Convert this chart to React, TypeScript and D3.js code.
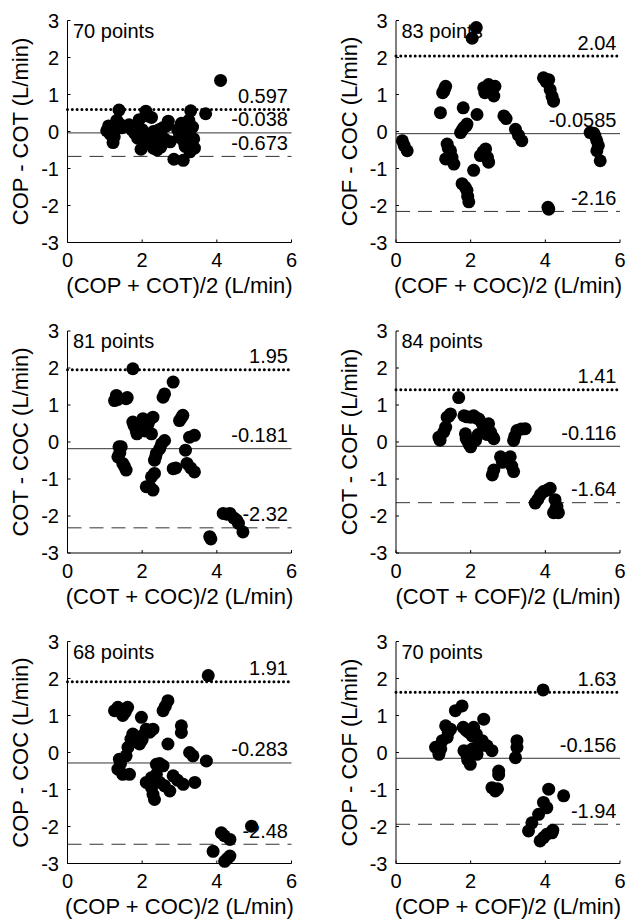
import React from 'react';
import * as d3 from 'd3';

// Bland-Altman panels: [mean of two methods, difference]
const copCot: [number, number][] = [
  [1.05, 0.02], [1.1, 0.15], [1.15, -0.08], [1.22, -0.3], [1.25, -0.15], [1.28, 0.05], [1.32, 0.3], [1.38, 0.58],
  [1.4, 0.2], [1.45, 0.1], [1.65, 0.18], [1.72, 0.05], [1.8, -0.05], [1.85, 0.1], [1.88, -0.18], [1.92, 0.32],
  [1.97, -0.48], [2.0, 0.05], [2.0, -0.1], [2.05, -0.3], [2.1, 0.55], [2.15, 0.42], [2.2, -0.15], [2.25, 0.38],
  [2.3, -0.45], [2.3, 0.0], [2.35, -0.1], [2.4, -0.5], [2.45, 0.05], [2.45, -0.3], [2.5, -0.42], [2.55, 0.1],
  [2.6, -0.2], [2.65, 0.15], [2.7, 0.28], [2.75, -0.28], [2.85, -0.75], [2.95, 0.05], [3.0, -0.15], [3.0, 0.0],
  [3.05, 0.22], [3.1, -0.78], [3.1, -0.25], [3.12, 0.1], [3.15, -0.4], [3.2, -0.1], [3.25, 0.3], [3.28, -0.55],
  [3.3, 0.56], [3.35, 0.12], [3.38, -0.2], [3.4, -0.45], [3.7, 0.48], [4.1, 1.38],
];

const cofCoc: [number, number][] = [
  [0.17, -0.25], [0.22, -0.38], [0.3, -0.52],
  [1.19, 0.51], [1.25, 1.05], [1.28, 1.09], [1.3, 1.15], [1.33, 1.22], [1.33, -0.74], [1.37, -0.34], [1.4, -0.45],
  [1.46, -0.52], [1.5, -0.7], [1.55, -0.88],
  [1.73, -0.03], [1.77, -1.41], [1.78, 0.05], [1.8, 0.64], [1.82, 0.11], [1.85, -1.5], [1.88, 0.15], [1.9, 0.2],
  [1.9, -1.59], [1.92, -1.75], [1.95, -1.9], [2.04, 2.52], [2.08, -1.05], [2.15, 2.81], [2.17, 0.46],
  [2.26, -0.65], [2.33, -0.55], [2.35, 1.18], [2.38, 1.05], [2.4, -0.47], [2.45, -0.7], [2.48, 1.27], [2.48, -0.83],
  [2.55, 1.1], [2.62, 0.96], [2.65, 1.22], [2.89, 0.42], [2.95, 0.35], [3.2, 0.06], [3.28, -0.1], [3.37, -0.25],
  [3.95, 1.45], [4.02, 1.35], [4.09, 1.4], [4.13, 1.13], [4.18, 0.95], [4.22, 0.82], [4.07, -2.05], [4.09, -2.1],
  [5.2, -0.03], [5.3, -0.05], [5.33, -0.12], [5.38, -0.25], [5.42, -0.38], [5.38, -0.52], [5.47, -0.79],
];

const cotCoc: [number, number][] = [
  [1.26, 1.12], [1.31, 1.26], [1.35, 1.15], [1.57, 1.17], [1.6, 1.2], [1.75, 1.98], [2.56, 1.21], [2.6, 1.3], [2.83, 1.62],
  [1.75, 0.54], [1.78, 0.45], [1.84, 0.31], [1.86, 0.22], [1.95, 0.4], [2.02, 0.63], [2.08, 0.3], [2.16, 0.49],
  [2.25, 0.22], [2.29, 0.67], [2.2, 0.6], [3.0, 0.58], [3.05, 0.65], [3.09, 0.72], [3.27, 0.13], [3.4, 0.18],
  [2.6, 0.04], [2.52, -0.05], [2.47, -0.18], [2.38, -0.31], [2.33, -0.49], [2.36, -0.4],
  [1.38, -0.13], [1.44, -0.13], [1.35, -0.4], [1.4, -0.3], [1.48, -0.58], [1.52, -0.65], [1.57, -0.76],
  [2.25, -0.94], [2.33, -0.85], [2.11, -1.21], [2.2, -1.2], [2.29, -1.3],
  [2.83, -0.72], [2.9, -0.7], [3.16, -0.22], [3.2, -0.58], [3.3, -0.7], [3.4, -0.81],
  [4.17, -1.93], [4.27, -1.95], [4.35, -1.93], [4.45, -2.05], [4.53, -2.11], [4.58, -2.2], [4.7, -2.43],
  [3.81, -2.56], [3.84, -2.62],
];

const cotCof: [number, number][] = [
  [1.68, 1.2], [1.15, 0.13], [1.18, 0.05], [1.28, 0.27], [1.33, 0.4], [1.37, 0.67], [1.46, 0.76], [1.42, 0.7],
  [1.82, 0.71], [1.9, 0.68], [2.0, 0.67], [2.08, 0.71], [2.15, 0.65], [2.22, 0.62], [2.31, 0.49], [2.4, 0.45],
  [2.48, 0.49], [2.53, 0.27], [2.58, 0.15], [2.62, 0.09], [2.35, 0.31], [2.45, 0.2],
  [1.86, 0.22], [1.88, 0.1], [1.91, 0.04], [1.95, -0.05], [2.0, -0.13], [2.05, 0.0], [2.13, 0.04], [2.2, 0.2],
  [2.62, -0.76], [2.58, -0.89], [2.8, -0.4], [2.85, -0.55], [2.93, -0.49], [3.06, -0.4], [3.1, -0.65], [3.15, -0.8],
  [3.15, 0.04], [3.18, 0.15], [3.24, 0.31], [3.35, 0.35], [3.46, 0.36],
  [3.73, -1.65], [3.8, -1.55], [3.87, -1.42], [3.95, -1.34], [4.05, -1.3], [4.13, -1.25], [4.26, -1.56],
  [4.31, -1.74], [4.35, -1.91], [4.22, -1.91], [4.28, -1.8],
];

const copCoc: [number, number][] = [
  [3.77, 2.08], [4.93, -1.99], [3.9, -2.67], [4.12, -2.17], [4.2, -2.25], [4.35, -2.35], [4.21, -2.94], [4.35, -2.8], [4.28, -2.87],
  [2.69, 1.4], [2.56, 1.13], [2.62, 1.25], [1.26, 1.13], [1.35, 1.22], [1.48, 1.0], [1.61, 1.22], [1.55, 1.1], [1.98, 0.95],
  [3.05, 0.72], [3.05, 0.54],
  [1.75, 0.5], [1.7, 0.36], [1.8, 0.3], [1.93, 0.23], [2.0, 0.45], [2.11, 0.63], [2.2, 0.55], [2.29, 0.63], [2.0, 0.35],
  [1.62, 0.14], [1.57, -0.09], [1.39, -0.18], [1.42, -0.3], [1.35, -0.45], [1.48, -0.59], [1.66, -0.59],
  [2.69, 0.23], [3.27, 0.0], [3.36, -0.09], [3.72, -0.23],
  [2.38, -0.32], [2.47, -0.3], [2.56, -0.36], [2.38, -0.59], [2.25, -0.68], [2.11, -0.81], [2.2, -0.85], [2.25, -0.95],
  [2.29, -1.13], [2.33, -1.27], [2.47, -0.81], [2.6, -0.9], [2.74, -1.04], [2.83, -0.63], [2.95, -0.75], [3.1, -0.86], [3.41, -0.81],
];

const copCof: [number, number][] = [
  [3.94, 1.69], [1.77, 1.26], [1.59, 1.13], [2.35, 0.9],
  [1.06, 0.14], [1.15, -0.05], [1.2, 0.1], [1.24, 0.32], [1.37, 0.41], [1.33, 0.72], [1.46, 0.63], [1.4, 0.55],
  [1.8, 0.68], [1.88, 0.6], [1.95, 0.54], [2.04, 0.45], [2.08, 0.68], [2.15, 0.5], [2.22, 0.32], [2.31, 0.32],
  [2.44, 0.18], [2.57, 0.05],
  [1.82, 0.05], [1.9, -0.09], [1.99, -0.32], [1.92, -0.2], [2.17, -0.05], [2.26, 0.18], [2.05, 0.1],
  [3.24, 0.32], [3.24, 0.14], [3.2, -0.14],
  [2.75, -0.5], [2.75, -0.6], [2.57, -0.95], [2.66, -1.04], [2.72, -0.98],
  [4.09, -0.99], [4.49, -1.17], [3.95, -1.35], [4.04, -1.49], [3.82, -1.67], [3.64, -1.9], [3.55, -2.12],
  [3.86, -2.39], [3.95, -2.3], [4.04, -2.21], [4.18, -2.17], [4.2, -2.1],
];

const panelData = [copCot, cofCoc, cotCoc, cotCof, copCoc, copCof];
const pointCounts = [70, 83, 81, 84, 68, 70];
const meanDiff = [-0.038, -0.0585, -0.181, -0.116, -0.283, -0.156];
const upperLimit = [0.597, 2.04, 1.95, 1.41, 1.91, 1.63];
const lowerLimit = [-0.673, -2.16, -2.32, -1.64, -2.48, -1.94];
const yLabels = ['COP - COT (L/min)', 'COF - COC (L/min)', 'COT - COC (L/min)', 'COT - COF (L/min)', 'COP - COC (L/min)', 'COP - COF (L/min)'];
const xLabels = ['(COP + COT)/2 (L/min)', '(COF + COC)/2 (L/min)', '(COT + COC)/2 (L/min)', '(COT + COF)/2 (L/min)', '(COP + COC)/2 (L/min)', '(COP + COF)/2 (L/min)'];
const xTicks = [0, 2, 4, 6];
const yTicks = [-3, -2, -1, 0, 1, 2, 3];

const colLeft = [67.5, 396];
const rowTop = [20.5, 331, 641.5];
const plotW = 224;
const plotH = 222;
const font = '"Liberation Sans", Arial, Helvetica, sans-serif';

function Panel({ idx }: { idx: number }) {
  const left = colLeft[idx % 2];
  const top = rowTop[Math.floor(idx / 2)];
  const x = d3.scaleLinear().domain([0, 6]).range([0, plotW]);
  const y = d3.scaleLinear().domain([-3, 3]).range([plotH, 0]);
  const fmt = (v: number) => (v < 0 ? '-' + Math.abs(v) : String(v));
  const lineLabels = [
    { v: upperLimit[idx], t: String(upperLimit[idx]) },
    { v: meanDiff[idx], t: fmt(meanDiff[idx]) },
    { v: lowerLimit[idx], t: fmt(lowerLimit[idx]) },
  ];
  return (
    <g transform={`translate(${left},${top})`} fontFamily={font}>
      <line x1={x(0)} x2={x(6)} y1={y(upperLimit[idx])} y2={y(upperLimit[idx])}
        stroke="#000" strokeWidth={3} strokeDasharray="0 4.8" strokeLinecap="round" />
      <line x1={x(0)} x2={x(6)} y1={y(meanDiff[idx])} y2={y(meanDiff[idx])} stroke="#333" strokeWidth={1} />
      <line x1={x(0)} x2={x(6)} y1={y(lowerLimit[idx])} y2={y(lowerLimit[idx])}
        stroke="#333" strokeWidth={1} strokeDasharray="14 8" />
      {panelData[idx].map((d, i) => (
        <circle key={i} cx={x(d[0])} cy={y(d[1])} r={6.5} fill="#000" />
      ))}
      {lineLabels.map((l, i) => (
        <text key={i} x={plotW - 3.5} y={y(l.v) - 6.5} textAnchor="end" fontSize={20}>{l.t}</text>
      ))}
      <text x={5.5} y={17} fontSize={20}>{pointCounts[idx]} points</text>
      <line x1={0} x2={plotW} y1={plotH} y2={plotH} stroke="#000" />
      <line x1={0} x2={0} y1={0} y2={plotH} stroke="#000" />
      {xTicks.map(t => (
        <g key={t}>
          <line x1={x(t)} x2={x(t)} y1={plotH} y2={plotH - 3} stroke="#000" />
          <text x={x(t)} y={plotH + 24.7} textAnchor="middle" fontSize={20}>{t}</text>
        </g>
      ))}
      {yTicks.map(t => (
        <g key={t}>
          <line x1={0} x2={3} y1={y(t)} y2={y(t)} stroke="#000" />
          <text x={-8.5} y={y(t)} dy="0.36em" textAnchor="end" fontSize={20}>{t}</text>
        </g>
      ))}
      <text x={plotW / 2} y={plotH + 50.7} textAnchor="middle" fontSize={22}>{xLabels[idx]}</text>
      <text transform={`translate(-39.5,${plotH / 2}) rotate(-90)`} textAnchor="middle" fontSize={22}>{yLabels[idx]}</text>
    </g>
  );
}

export default function App() {
  return (
    <svg width={628} height={920} style={{ position: 'absolute', left: 0, top: 0, background: '#fff' }}>
      <rect width={628} height={920} fill="#fff" />
      {panelData.map((_, i) => <Panel key={i} idx={i} />)}
    </svg>
  );
}
